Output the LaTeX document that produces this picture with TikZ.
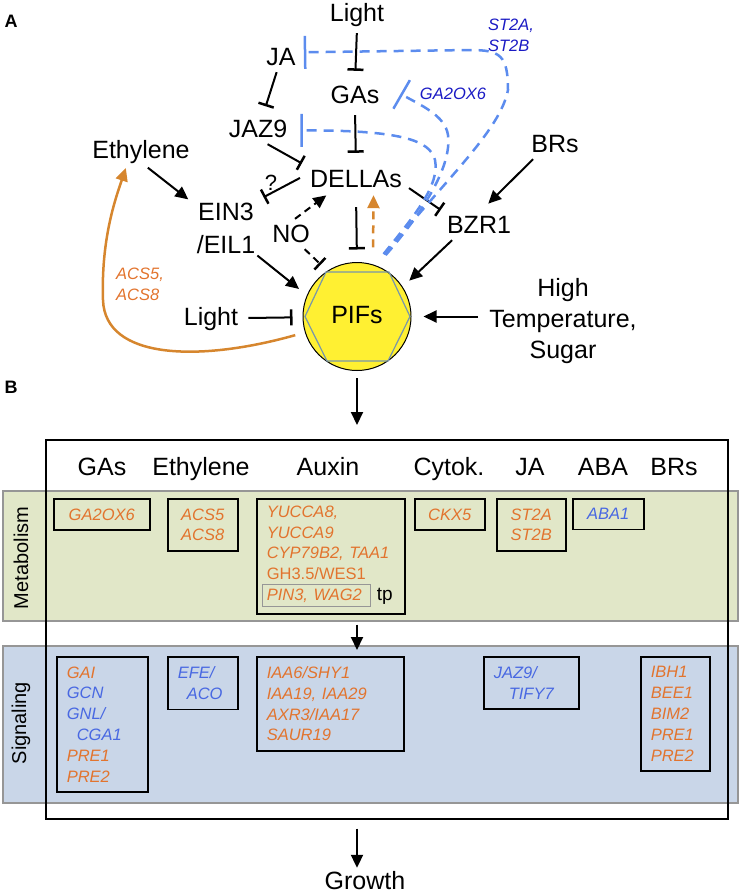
\documentclass[tikz,border=0pt]{standalone}
\usepackage{fontspec}
\setmainfont{Liberation Sans}
\usetikzlibrary{arrows.meta}
\definecolor{geneorange}{RGB}{226,116,46}
\definecolor{curveorange}{RGB}{214,134,46}
\definecolor{geneblue}{RGB}{72,104,226}
\definecolor{darkblue}{RGB}{26,26,196}
\definecolor{dashblue}{RGB}{92,140,238}
\definecolor{pifyellow}{RGB}{255,240,50}
\definecolor{hexgray}{RGB}{120,150,170}
\definecolor{metabfill}{RGB}{225,231,200}
\definecolor{signalfill}{RGB}{201,214,232}
\definecolor{bandgray}{RGB}{150,150,150}
\tikzset{
  txt/.style={font=\fontsize{25}{31}\selectfont, inner sep=2pt},
  lab/.style={txt, text height=18pt, text depth=5pt},
  gene/.style={font=\fontsize{16.5}{20.8}\selectfont\itshape},
  act/.style={line width=2pt, -{Triangle[length=13pt,width=12pt]}},
  inh/.style={line width=2pt, -{Bar[width=16pt,line width=2.5pt]}},
  blinh/.style={dashblue, line width=2.5pt, dash pattern=on 10pt off 7pt, -{Bar[width=33pt]}, shorten <=14pt},
  box/.style={draw, line width=1.5pt, anchor=north west, inner xsep=10pt, inner ysep=9.8pt, gene, text=geneorange},
  band/.style={draw=bandgray, line width=1.5pt, anchor=north west, inner sep=0pt},
}
\begin{document}
\begin{tikzpicture}[x=1pt,y=-1pt]
\useasboundingbox (0,0) rectangle (740,895);

\node[font=\fontsize{18}{20}\selectfont\bfseries] (lblA) at (11,21.5) {A};
\node[lab] (light1) at (357,14.5) {Light};
\node[lab] (ja) at (281,58.5) {JA};
\node[lab] (gas) at (355,96.5) {GAs};
\node[lab] (jaz9) at (258,130.5) {JAZ9};
\node[lab] (eth) at (141,151.5) {Ethylene};
\node[lab] (brs) at (555,145.5) {BRs};
\node[lab] (dellas) at (356,180.5) {DELLAs};
\node[txt, font=\fontsize{25}{33}\selectfont, align=center] (ein) at (226,228) {EIN3\\/EIL1};
\node[lab] (no) at (291,235.5) {NO};
\node[lab] (bzr) at (479,226.5) {BZR1};
\node[font=\fontsize{22}{24}\selectfont] (qmark) at (271,183) {?};
\node[lab, circle, draw, line width=1pt, fill=pifyellow, minimum size=108pt, inner sep=0pt] (pifs) at (357,316.5) {PIFs};
\draw[hexgray, line width=1.2pt] (pifs.center) +(-52,0) -- +(-31,-44.5) -- +(32,-44.5) -- +(53,0) -- +(31,44.5) -- +(-30,44.5) -- cycle;
\node[lab] (light2) at (211,318.5) {Light};
\node[txt, align=center, inner xsep=11pt] (hts) at (563,321) {High\\Temperature,\\Sugar};
\node[gene, text=darkblue] (ga2ox6) at (453,94) {GA2OX6};
\node[gene, text=darkblue, align=left] (st2) at (511,35) {ST2A,\\ST2B};
\node[gene, text=geneorange, align=left] (acs) at (140,284) {ACS5,\\ACS8};

\draw[inh, shorten <=5pt, shorten >=12pt] (light1.south) -- (gas.north);
\draw[inh, shorten <=5pt, shorten >=14pt] (gas.south) -- (dellas.north);
\draw[inh, shorten >=11pt] (ja) -- (jaz9);
\draw[inh, shorten >=7pt] (jaz9.-55) -- (dellas.north west);
\draw[act, shorten <=4pt, shorten >=8pt] (eth.-75) -- (ein.143);
\draw[inh, shorten <=9pt, shorten >=7pt] (dellas.172) -- (ein.north east);
\draw[act, dash pattern=on 7pt off 5pt, shorten <=5pt, shorten >=2pt] (no.north) -- (dellas.-154);
\draw[inh, dash pattern=on 7pt off 5pt, shorten >=9pt] (no.-45) -- (pifs.123);
\draw[inh, shorten <=13pt, shorten >=12.5pt] (dellas.south) -- (pifs.north);
\draw[inh, shorten <=6pt, shorten >=5pt] (dellas.-5) -- (bzr.north west);
\draw[act, shorten >=13pt] (brs.-148) -- (bzr.north);
\draw[act, shorten >=9pt] (bzr.-153) -- (pifs.33);
\draw[act, shorten >=10pt] (ein.south east) -- (pifs.157);
\draw[inh, shorten <=8pt, shorten >=10pt] (light2) -- (pifs);
\draw[act, shorten >=12pt] (hts.west |- pifs) -- (pifs);
\draw[curveorange, line width=2.5pt, dash pattern=on 8pt off 6pt, -{Triangle[length=13pt,width=12pt]}, shorten <=17pt, shorten >=1pt] (pifs.73) -- (dellas.-38.5);
\draw[curveorange, line width=2.5pt, -{Triangle[length=13pt,width=12pt]}, shorten <=10pt, shorten >=3pt]
  (pifs.-163) .. controls (200,362) and (105,360) .. (103,300) .. controls (101,240) and (115,200) .. (eth.-136);
\draw[blinh, shorten >=6pt] (pifs.70) .. controls (450,175) and (500,130) .. (508,90) .. controls (508,55) and (500,50) .. (470,50) -- (ja.20);
\draw[blinh, shorten >=22pt] (pifs.69) .. controls (425,210) and (452,165) .. (448,135) .. controls (445,115) and (420,105) .. (gas.north east);
\draw[blinh, shorten >=11pt] (pifs.71) .. controls (415,215) and (440,185) .. (435,160) .. controls (430,140) and (400,130) .. (jaz9.east);

\node[font=\fontsize{18}{20}\selectfont\bfseries] (lblB) at (11,387) {B};
\node[band, fill=metabfill, minimum width=735pt, minimum height=130pt] (metab) at (2,490) {};
\node[band, fill=signalfill, minimum width=735pt, minimum height=157pt] (signal) at (2,645) {};
\node[draw, line width=1.5pt, anchor=north west, minimum width=682pt, minimum height=379pt, inner sep=0pt] (frame) at (45,439) {};
\node[font=\fontsize{20}{24}\selectfont, rotate=90] (metablab) at (21,558) {Metabolism};
\node[font=\fontsize{20}{24}\selectfont, rotate=90] (signallab) at (21,723) {Signaling};

\node[lab] (hgas) at (102,468.5) {GAs};
\node[lab] (heth) at (201,468.5) {Ethylene};
\node[lab] (haux) at (328,468.5) {Auxin};
\node[lab] (hcyt) at (449,468.5) {Cytok.};
\node[lab] (hja) at (530,468.5) {JA};
\node[lab] (haba) at (603,468.5) {ABA};
\node[lab] (hbrs) at (674,468.5) {BRs};

\node[box, align=center, text width=76pt] (mgas) at (53,498) {GA2OX6};
\node[box, align=center, text width=50pt] (meth) at (167,498) {ACS5\\ACS8};
\node[box, align=left, text width=128pt, inner ysep=7pt] (maux) at (256,498) {YUCCA8,\\YUCCA9\\CYP79B2, TAA1\\\upshape GH3.5/WES1\\\setlength{\fboxsep}{3.5pt}\setlength{\fboxrule}{1pt}\hspace*{-4.5pt}\fcolorbox{bandgray}{metabfill}{\itshape PIN3, WAG2\hspace{5pt}}~{\color{black}\fontsize{19}{20.8}\selectfont tp}};
\node[box, align=center, text width=50pt] (mcyt) at (414,498) {CKX5};
\node[box, align=center, text width=49pt] (mja) at (496,498) {ST2A\\ST2B};
\node[box, align=center, text width=51pt] (maba) at (572,498) {\color{geneblue}ABA1};

\node[box, align=left, text width=71pt] (sgas) at (56,656) {GAI\\\color{geneblue}GCN\\GNL/\\\hspace*{10pt}CGA1\\\color{geneorange}PRE1\\PRE2};
\node[box, align=left, text width=50pt] (seth) at (167,656) {\color{geneblue}EFE/\\\hspace*{9pt}ACO};
\node[box, align=left, text width=127pt] (saux) at (256,656) {IAA6/SHY1\\IAA19, IAA29\\AXR3/IAA17\\SAUR19};
\node[box, align=left, text width=75pt] (sja) at (483,656) {\color{geneblue}JAZ9/\\\hspace*{15pt}TIFY7};
\node[box, align=left, text width=49pt] (sbrs) at (640,656) {IBH1\\BEE1\\BIM2\\PRE1\\PRE2};

\node[lab] (growth) at (365,882.5) {Growth};
\draw[act, shorten <=7pt, shorten >=14pt] (pifs.south) -- (pifs.south |- frame.north);
\draw[act, shorten <=3pt, shorten >=-5pt] (pifs |- metab.south) -- (pifs |- signal.north);
\draw[act, shorten <=9pt, shorten >=1pt] (pifs |- frame.south) -- (pifs |- growth.north);
\end{tikzpicture}
\end{document}
